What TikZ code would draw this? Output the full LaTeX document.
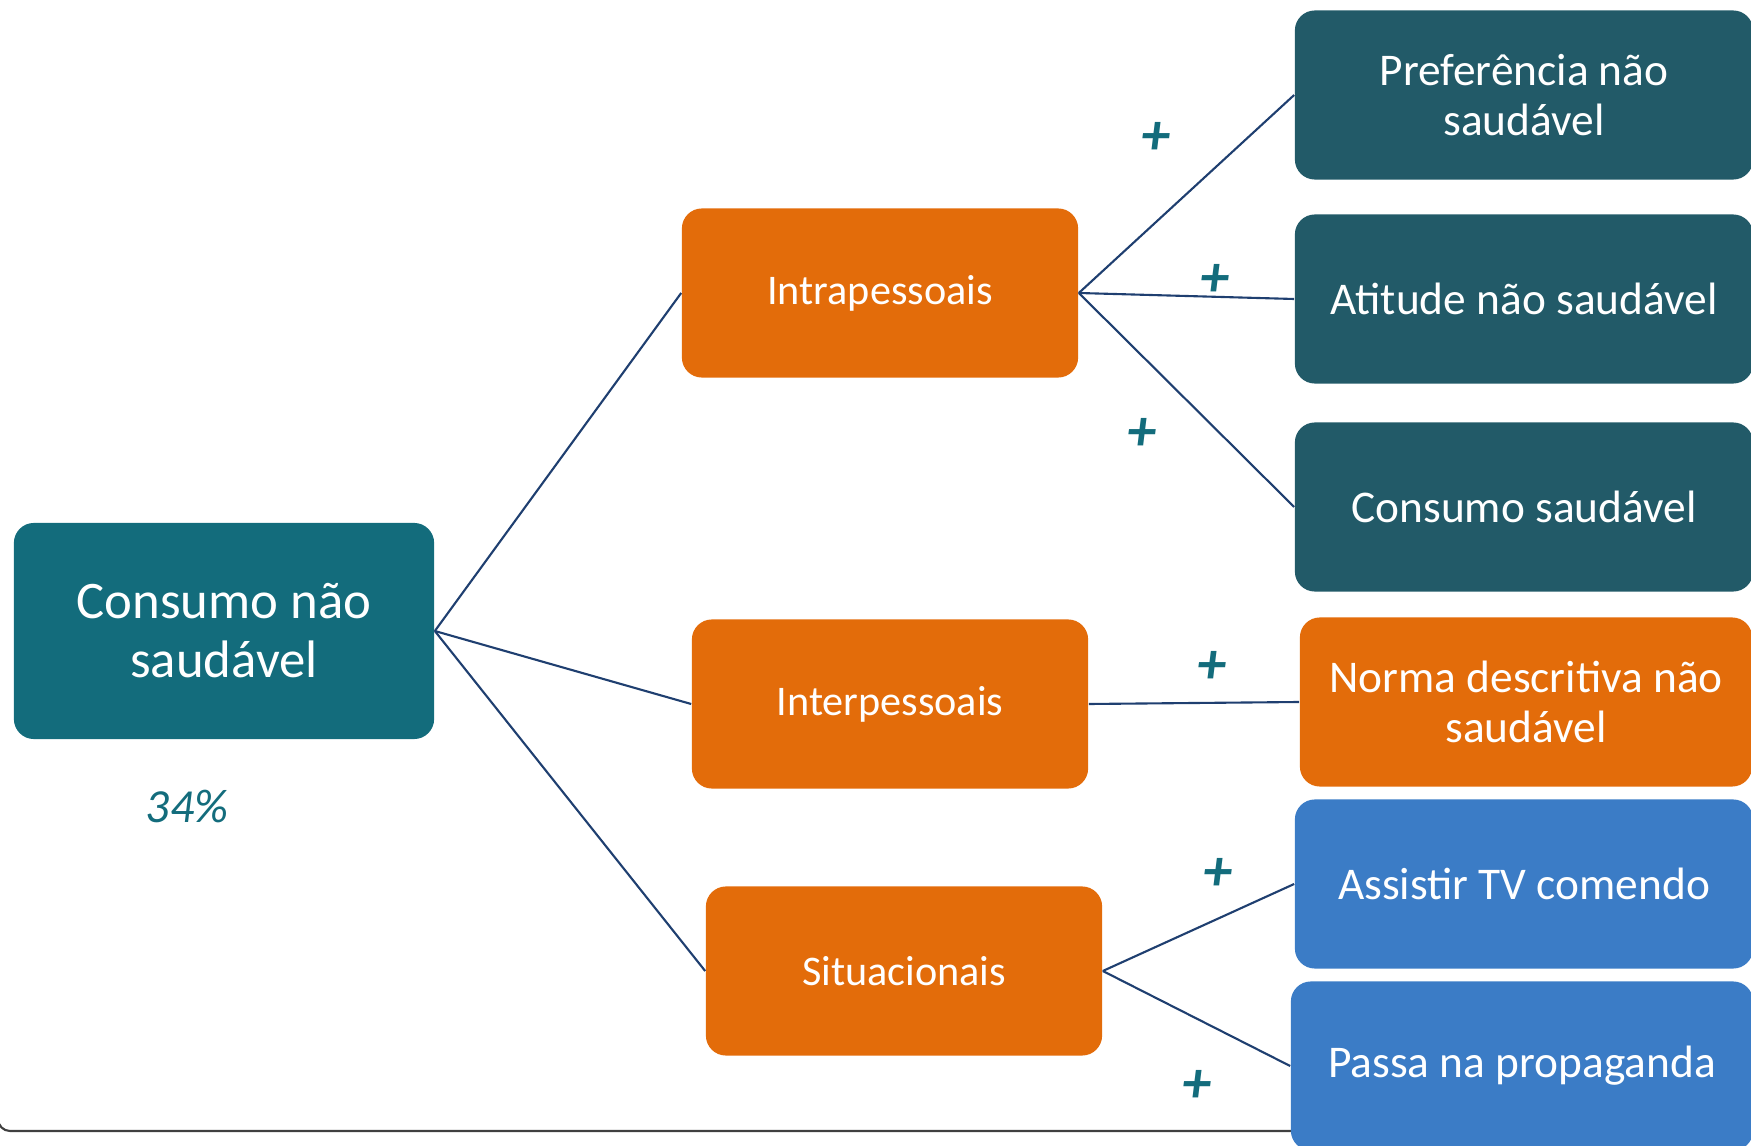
\documentclass[tikz,border=0pt]{standalone}
\usepackage{fontspec}
\setmainfont{Carlito}
\definecolor{rootteal}{HTML}{136C7C}
\definecolor{darkteal}{HTML}{225A68}
\definecolor{factorange}{HTML}{E36C0A}
\definecolor{sitblue}{HTML}{3B7CC6}
\definecolor{linknavy}{HTML}{1F3F70}
\begin{document}
\begin{tikzpicture}[x=0.01cm,y=-0.01cm,
  box/.style={rounded corners=0.2cm,inner sep=0pt,align=center,text=white},
  rootbox/.style={box,fill=rootteal,minimum width=4.2cm,minimum height=2.16cm,font=\fontsize{15}{16.8}\selectfont},
  factbox/.style={box,fill=factorange,minimum width=3.96cm,minimum height=1.69cm,font=\fontsize{12}{14}\selectfont},
  itembox/.style={box,minimum width=4.58cm,minimum height=1.69cm,font=\fontsize{12.9}{14.2}\selectfont},
  link/.style={linknavy,line width=0.6pt},
  pct/.style={rootteal,font=\fontsize{13.5}{16}\selectfont\itshape},
  sign/.style={rootteal,font=\fontsize{16.5}{18}\selectfont\bfseries\itshape}]
\useasboundingbox (0,0) rectangle (1751,1146);
\clip (0,0) rectangle (1751,1146);

% outer frame, mostly cut off
\draw[line width=0.6pt,black!75,rounded corners=0.12cm] (-2,-60) rectangle (1800,1131);

% root
\node[rootbox] (root) at (224,631) {Consumo não\\saudável};
\node[pct] (share) at (187,807) {34\%};

% factors
\node[factbox] (intra) at (880,293) {Intrapessoais};
\node[factbox] (inter) at (890,704) {Interpessoais};
\node[factbox] (situ) at (904,971) {Situacionais};

% items
\node[itembox,fill=darkteal] (pref) at (1524,95) {Preferência não\\saudável};
\node[itembox,fill=darkteal] (atit) at (1524,299) {Atitude não saudável};
\node[itembox,fill=darkteal] (cons) at (1524,507) {Consumo saudável};
\node[itembox,fill=factorange,minimum width=4.52cm] (norma) at (1526,702) {Norma descritiva não\\saudável};
\node[itembox,fill=sitblue] (assis) at (1524,884) {Assistir TV comendo};
\node[itembox,fill=sitblue,minimum width=4.62cm] (passa) at (1522,1066) {Passa na propaganda};

% links
\draw[link] (root.east) -- (intra.west);
\draw[link] (root.east) -- (inter.west);
\draw[link] (root.east) -- (situ.west);
\draw[link] (intra.east) -- (pref.west);
\draw[link] (intra.east) -- (atit.west);
\draw[link] (intra.east) -- (cons.west);
\draw[link] (inter.east) -- (norma.west);
\draw[link] (situ.east) -- (assis.west);
\draw[link] (situ.east) -- (passa.west);

% signs
\node[sign] (p1) at (1156,138) {+};
\node[sign] (p2) at (1215,280) {+};
\node[sign] (p3) at (1142,434) {+};
\node[sign] (p4) at (1212,667) {+};
\node[sign] (p5) at (1218,874) {+};
\node[sign] (p6) at (1197,1086) {+};
\end{tikzpicture}
\end{document}
